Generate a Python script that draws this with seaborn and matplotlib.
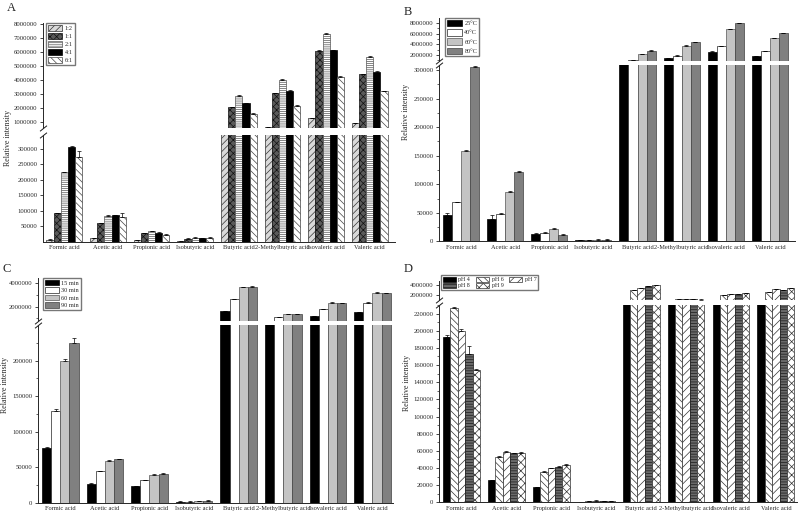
import numpy as np
import pandas as pd
import matplotlib
matplotlib.use("Agg")
import matplotlib.pyplot as plt
import seaborn as sns
from matplotlib.patches import Patch

acids = ["Formic acid", "Acetic acid", "Propionic acid", "Isobutyric acid",
         "Butyric acid", "2-Methylbutyric acid", "Isovaleric acid", "Valeric acid"]

# A: ratio
ratio_labels = ["1:2", "1:1", "2:1", "4:1", "6:1"]
ratio_1_2 = [8000, 12000, 7000, 2000, 500000, 680000, 1280000, 930000]
ratio_1_1 = [93000, 60000, 28000, 11000, 2080000, 3060000, 6060000, 4400000]
ratio_2_1 = [225000, 85000, 35000, 14000, 2870000, 4000000, 7250000, 5630000]
ratio_4_1 = [305000, 86000, 30000, 13000, 2350000, 3220000, 6100000, 4600000]
ratio_6_1 = [273000, 80000, 24000, 14000, 1620000, 2160000, 4240000, 3220000]
ratio_err = [[1000, 1000, 500, 300, 20000, 20000, 30000, 20000],
             [2000, 2000, 1000, 500, 40000, 50000, 60000, 50000],
             [2000, 2000, 2000, 1000, 40000, 80000, 90000, 80000],
             [6000, 2000, 1000, 500, 40000, 50000, 60000, 50000],
             [22000, 13000, 1000, 1000, 30000, 40000, 40000, 40000]]

# B: temperature
temp_labels = ["25°C", "40°C", "60°C", "80°C"]
temp_25 = [46000, 38600, 13300, 2000, 700000, 1380000, 2620000, 1810000]
temp_40 = [68400, 48400, 15100, 2000, 1060000, 1870000, 3700000, 2700000]
temp_60 = [159000, 87000, 21000, 3000, 2190000, 3750000, 6850000, 5100000]
temp_80 = [305000, 121600, 11000, 3000, 2800000, 4450000, 7900000, 6100000]
temp_err = [[3000, 7000, 800, 200, 30000, 40000, 50000, 50000],
            [1000, 1500, 800, 200, 30000, 40000, 50000, 50000],
            [1500, 1500, 2000, 300, 40000, 50000, 80000, 70000],
            [2000, 2000, 1000, 300, 50000, 50000, 80000, 70000]]

# C: time
time_labels = ["15 min", "30 min", "60 min", "90 min"]
time_15 = [77000, 27000, 23000, 1500, 1630000, 600000, 1200000, 1520000]
time_30 = [129600, 44500, 32000, 1500, 2630000, 1090000, 1780000, 2340000]
time_60 = [200000, 59000, 39500, 2500, 3660000, 1370000, 2340000, 3170000]
time_90 = [225000, 61000, 41000, 3000, 3710000, 1350000, 2300000, 3140000]
time_err = [[1500, 800, 600, 200, 30000, 20000, 30000, 30000],
            [2500, 600, 600, 200, 30000, 20000, 30000, 30000],
            [1500, 1000, 1000, 300, 40000, 30000, 30000, 40000],
            [7000, 1000, 1000, 300, 80000, 30000, 30000, 50000]]

# D: pH
ph_labels = ["pH 4", "pH 6", "pH 7", "pH 8", "pH 9"]
ph_4 = [192700, 25600, 17800, 600, 800000, 700000, 800000, 900000]
ph_6 = [227000, 53000, 35600, 1800, 2930000, 1250000, 2100000, 2600000]
ph_7 = [199600, 58800, 39500, 2000, 3420000, 1360000, 2300000, 3100000]
ph_8 = [173000, 57000, 40700, 1500, 3740000, 1250000, 2300000, 3050000]
ph_9 = [154500, 57900, 43400, 1800, 3870000, 1200000, 2430000, 3360000]
ph_err = [[2500, 500, 500, 100, 20000, 20000, 20000, 20000],
          [1000, 800, 600, 200, 40000, 30000, 30000, 40000],
          [2000, 800, 800, 200, 40000, 30000, 30000, 40000],
          [9000, 1000, 2000, 200, 50000, 30000, 30000, 40000],
          [1000, 800, 800, 200, 50000, 30000, 30000, 50000]]

sns.set_theme(style="ticks")
plt.rcParams["font.family"] = ["Liberation Serif", "DejaVu Serif"]
plt.rcParams["hatch.linewidth"] = 0.5
plt.rcParams["axes.linewidth"] = 0.7

fig = plt.figure(figsize=(8, 5.14), dpi=100)


def draw_panel(rect_top, rect_bot, levels, values, errors, styles,
               top_lim, bot_lim, top_ticks, bot_ticks, xlim,
               top_minor=None, bot_minor=None):
    ax_t = fig.add_axes(rect_top)
    ax_b = fig.add_axes(rect_bot)
    rows = [(a, lvl, v) for lvl, vals in zip(levels, values) for a, v in zip(acids, vals)]
    df = pd.DataFrame(rows, columns=["acid", "level", "value"])
    for ax in (ax_t, ax_b):
        sns.barplot(data=df, x="acid", y="value", hue="level", order=acids,
                    hue_order=levels, palette=[styles[l][0] for l in levels],
                    width=0.82, errorbar=None, legend=False, ax=ax)
        conts = list(ax.containers)[:len(levels)]
        for cont, lvl, err in zip(conts, levels, errors):
            face, hatch, edge = styles[lvl]
            xs, ys = [], []
            for bar in cont:
                bar.set_facecolor(face)
                bar.set_edgecolor(edge)
                bar.set_hatch(hatch)
                bar.set_linewidth(0.5)
                xs.append(bar.get_x() + bar.get_width() / 2)
                ys.append(bar.get_height())
            ax.errorbar(xs, ys, yerr=[np.zeros(len(err)), err], fmt="none",
                        ecolor="black", elinewidth=0.5, capsize=1.5, capthick=0.5)
        ax.set_xlim(*xlim)
        ax.set_xlabel("")
        ax.set_ylabel("")
        ax.spines["top"].set_visible(False)
        ax.spines["right"].set_visible(False)
        ax.tick_params(axis="y", direction="out", length=2.5, width=0.6,
                       labelsize=4.8, pad=1.5)
        ax.tick_params(axis="y", which="minor", direction="out", length=1.5, width=0.5)
    ax_t.set_ylim(*top_lim)
    ax_b.set_ylim(*bot_lim)
    ax_t.set_yticks(top_ticks)
    ax_t.set_yticklabels([str(int(t)) for t in top_ticks])
    ax_b.set_yticks(bot_ticks)
    ax_b.set_yticklabels([str(int(t)) for t in bot_ticks])
    if top_minor is not None:
        ax_t.set_yticks(top_minor, minor=True)
    if bot_minor is not None:
        ax_b.set_yticks(bot_minor, minor=True)
    ax_t.spines["bottom"].set_visible(False)
    ax_t.tick_params(axis="x", bottom=False, labelbottom=False)
    ax_b.tick_params(axis="x", length=0, labelsize=4.6, pad=2.5)
    # break marks
    d = 0.8
    kw = dict(marker=[(-1, -d), (1, d)], markersize=5, linestyle="none",
              color="k", mec="k", mew=0.7, clip_on=False)
    ax_t.plot([0], [0], transform=ax_t.transAxes, **kw)
    ax_b.plot([0], [1], transform=ax_b.transAxes, **kw)
    return ax_t, ax_b


def frac(x0, y0, x1, y1):
    return [x0 / 800, 1 - y1 / 514, (x1 - x0) / 800, (y1 - y0) / 514]


def add_legend(levels, styles, anchor, ncol=1, order=None, hl=2.2, hh=1.1, ls=0.25, fs=4.5):
    handles = [Patch(facecolor=styles[l][0], hatch=styles[l][1], edgecolor=styles[l][2],
                     linewidth=0.5, label=l) for l in levels]
    if order is not None:
        handles = [handles[i] for i in order]
    fig.legend(handles=handles, loc="upper left", bbox_to_anchor=anchor, ncol=ncol,
               fontsize=fs, frameon=True, fancybox=False, edgecolor="#777777",
               framealpha=1, handlelength=hl, handleheight=hh, labelspacing=ls,
               handletextpad=0.4, borderpad=0.3, borderaxespad=0, columnspacing=1.0)


# A
styles_a = {"1:2": ("#d9d9d9", "/////", "#333333"),
            "1:1": ("#5a5a5a", "xxxxx", "#111111"),
            "2:1": ("#ffffff", "--------", "#555555"),
            "4:1": ("#000000", "", "#000000"),
            "6:1": ("#ffffff", "\\\\\\\\\\", "#444444")}
draw_panel(frac(43, 23, 395, 128), frac(43, 135, 395, 242), ratio_labels,
           [ratio_1_2, ratio_1_1, ratio_2_1, ratio_4_1, ratio_6_1], ratio_err, styles_a,
           (600000, 8050000), (0, 345000),
           list(range(1000000, 8000001, 1000000)), list(range(50000, 300001, 50000)),
           (-0.49, 7.58))
add_legend(ratio_labels, styles_a, (46 / 800, 1 - 23 / 514), hl=2.3, hh=1.1, ls=0.3)

# B
styles_b = {"25°C": ("#000000", "", "#000000"),
            "40°C": ("#ffffff", "", "#222222"),
            "60°C": ("#c4c4c4", "", "#555555"),
            "80°C": ("#808080", "", "#404040")}
draw_panel(frac(439, 18, 795, 61), frac(439, 65, 795, 241.3), temp_labels,
           [temp_25, temp_40, temp_60, temp_80], temp_err, styles_b,
           (870000, 8900000), (0, 309000),
           [2000000, 4000000, 6000000, 8000000], list(range(0, 300001, 50000)),
           (-0.5, 7.57), top_minor=[1000000, 3000000, 5000000, 7000000],
           bot_minor=list(range(25000, 300001, 50000)))
add_legend(temp_labels, styles_b, (445 / 800, 1 - 18 / 514), hl=2.4, hh=1.2, ls=0.45)

# C
draw_panel(frac(38, 278, 393, 321), frac(38, 325, 393, 502.7), time_labels,
           [time_15, time_30, time_60, time_90], time_err,
           dict(zip(time_labels, styles_b.values())),
           (770000, 4450000), (0, 250000),
           [2000000, 4000000], list(range(0, 200001, 50000)),
           (-0.5, 7.46), top_minor=[1000000, 3000000],
           bot_minor=list(range(25000, 250001, 50000)))
add_legend(time_labels, dict(zip(time_labels, styles_b.values())), (43 / 800, 1 - 278 / 514),
           hl=2.2, hh=1.0, ls=0.25)

# D
styles_d = {"pH 4": ("#000000", "", "#000000"),
            "pH 6": ("#ffffff", "\\\\\\\\\\", "#333333"),
            "pH 7": ("#ffffff", "////", "#333333"),
            "pH 8": ("#6a6a6a", "------", "#1a1a1a"),
            "pH 9": ("#ffffff", "xxxx", "#333333")}
draw_panel(frac(439, 281, 797, 300), frac(439, 305, 797, 502.3), ph_labels,
           [ph_4, ph_6, ph_7, ph_8, ph_9], ph_err, styles_d,
           (1110000, 4700000), (0, 229500),
           [2000000, 4000000], list(range(0, 220001, 20000)),
           (-0.5, 7.47), bot_minor=list(range(10000, 230001, 20000)))
add_legend(ph_labels, styles_d, (441 / 800, 1 - 275 / 514), ncol=3, order=[0, 3, 1, 4, 2],
           hl=2.2, hh=0.9, ls=0.1, fs=4.3)

# panel letters and y labels
for letter, x, y in [("A", 11, 8), ("B", 408, 12), ("C", 7, 269), ("D", 408, 269)]:
    fig.text(x / 800, 1 - y / 514, letter, fontsize=9, ha="center", va="center")
for x, y in [(8, 138), (406, 112), (5, 385), (407, 383)]:
    fig.text(x / 800, 1 - y / 514, "Relative intensity", rotation=90, fontsize=5.7,
             ha="center", va="center")

fig.savefig("out.png", dpi=100)
